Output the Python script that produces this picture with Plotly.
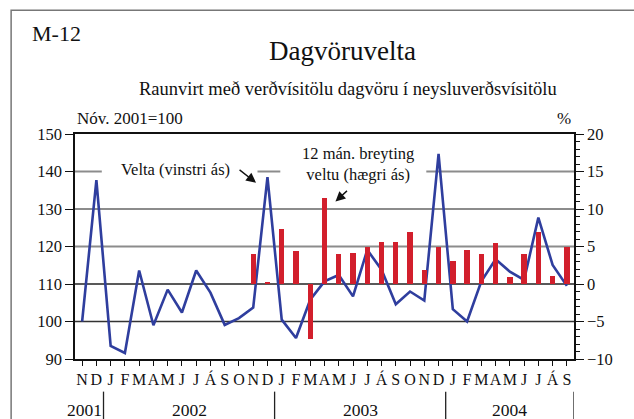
import plotly.graph_objects as go

months = ["N", "D",
          "J", "F", "M", "A", "M", "J", "J", "Á", "S", "O", "N", "D",
          "J", "F", "M", "A", "M", "J", "J", "Á", "S", "O", "N", "D",
          "J", "F", "M", "A", "M", "J", "J", "Á", "S"]
years = ["2001", "2002", "2003", "2004"]
year_centers = [0.15, 7.5, 19.5, 30.0]
year_breaks = [1.5, 13.5, 25.5, 34.5]

# Velta (left axis, Nóv. 2001 = 100)
velta = [100.0, 137.7, 93.5, 91.6, 113.6, 99.0, 108.5, 102.4, 113.6, 107.7, 99.1, 100.9,
         103.7, 138.5, 100.5, 95.6, 105.8, 110.7, 112.4, 106.7, 119.1, 113.8, 104.6, 108.0,
         105.6, 144.7, 103.3, 100.0, 110.7, 116.6, 113.3, 111.1, 127.7, 115.1, 109.5]

# 12 mán. breyting veltu (right axis, %)
breyting = [None] * 12 + [4.0, 0.3, 7.4, 4.4, -7.3, 11.5, 4.0, 4.1, 4.9, 5.6, 5.6, 6.9,
                          1.9, 4.9, 3.1, 4.6, 4.0, 5.5, 0.9, 4.0, 7.0, 1.1, 5.0]

x = list(range(len(months)))
SERIF = "Times New Roman, Liberation Serif, DejaVu Serif, serif"
RED = "#D21F2C"
BLUE = "#2F3E9E"
GRAY = "#8C8C8C"

fig = go.Figure()
fig.add_trace(go.Bar(x=x, y=breyting, yaxis="y2", marker=dict(color=RED, line=dict(width=0)),
                     width=0.38, showlegend=False))
fig.add_trace(go.Scatter(x=x, y=velta, yaxis="y", mode="lines",
                         line=dict(color=BLUE, width=2.6), showlegend=False))

shapes = []
# horizontal reference lines (left axis values)
for v, col, w in [(130, GRAY, 2), (120, GRAY, 2), (110, "#222222", 1.6), (100, "#333333", 1.3)]:
    shapes.append(dict(type="line", xref="x", yref="y", x0=-0.5, x1=34.5, y0=v, y1=v,
                       line=dict(color=col, width=w), layer="below"))
for a, b in [(-0.5, 1.38), (12.3, 13.9), (24.14, 34.5)]:
    shapes.append(dict(type="line", xref="x", yref="y", x0=a, x1=b, y0=140, y1=140,
                       line=dict(color=GRAY, width=2), layer="below"))
# year separators
for xb in year_breaks:
    shapes.append(dict(type="line", xref="x", yref="paper", x0=xb, x1=xb, y0=-0.145, y1=-0.27,
                       line=dict(color="#222222", width=1.3)))
# outer frame (top and left edges)
shapes.append(dict(type="rect", xref="paper", yref="paper", x0=-0.128, x1=1.2, y0=-0.5, y1=1.55,
                   line=dict(color="#777777", width=1.5)))

annotations = [
    dict(text="M-12", xref="paper", yref="paper", x=-0.09, y=1.445, xanchor="left", yanchor="middle",
         showarrow=False, font=dict(family=SERIF, size=22, color="#111")),
    dict(text="Dagvöruvelta", xref="paper", yref="paper", x=0.537, y=1.37, xanchor="center",
         yanchor="middle", showarrow=False, font=dict(family=SERIF, size=27, color="#111")),
    dict(text="Raunvirt með verðvísitölu dagvöru í neysluverðsvísitölu", xref="paper", yref="paper",
         x=0.547, y=1.2, xanchor="center", yanchor="middle", showarrow=False,
         font=dict(family=SERIF, size=18.5, color="#111")),
    dict(text="Nóv. 2001=100", xref="paper", yref="paper", x=0.0, y=1.07, xanchor="left",
         yanchor="middle", showarrow=False, font=dict(family=SERIF, size=17, color="#111")),
    dict(text="%", xref="paper", yref="paper", x=0.997, y=1.07, xanchor="right",
         yanchor="middle", showarrow=False, font=dict(family=SERIF, size=17, color="#111")),
    dict(text="Velta (vinstri ás)", xref="x", yref="y", x=6.56, y=140.6, showarrow=False,
         font=dict(family=SERIF, size=16.5, color="#111")),
    dict(text="12 mán. breyting<br>veltu (hægri ás)", xref="x", yref="y", x=19.37, y=142.0,
         showarrow=False, font=dict(family=SERIF, size=16.5, color="#111")),
    dict(text="", xref="x", yref="y", x=12.2, y=137.0, ax=-18, ay=-14, showarrow=True,
         arrowhead=2, arrowsize=1.4, arrowwidth=1.4, arrowcolor="#111"),
    dict(text="", xref="x", yref="y", x=17.77, y=132.0, ax=13, ay=-12, showarrow=True,
         arrowhead=2, arrowsize=1.4, arrowwidth=1.4, arrowcolor="#111"),
]
for yl, xc in zip(years, year_centers):
    annotations.append(dict(text=yl, xref="x", yref="paper", x=xc, y=-0.225, showarrow=False,
                            xanchor="center", yanchor="middle",
                            font=dict(family=SERIF, size=17.5, color="#111")))

fig.update_layout(
    width=634, height=419,
    margin=dict(l=75, r=60, t=134, b=60),
    paper_bgcolor="white", plot_bgcolor="white",
    font=dict(family=SERIF, color="#111"),
    bargap=0,
    xaxis=dict(range=[-0.5, 34.5], tickmode="array", tickvals=x, ticktext=months,
               tickangle=0,
               ticks="outside", ticklen=5, tickwidth=1.2, tickcolor="#111",
               showline=True, linecolor="#111", linewidth=1.5, mirror=True,
               showgrid=False, zeroline=False,
               tickfont=dict(family=SERIF, size=16, color="#111")),
    yaxis=dict(range=[90, 150], tickmode="linear", tick0=90, dtick=10,
               ticks="outside", ticklen=8, tickwidth=1.2, tickcolor="#111",
               showline=True, linecolor="#111", linewidth=1.5,
               showgrid=False, zeroline=False,
               tickfont=dict(family=SERIF, size=16.5, color="#111")),
    yaxis2=dict(range=[-10, 20], tickmode="linear", tick0=-10, dtick=5, overlaying="y",
                side="right", ticks="outside", ticklen=8, tickwidth=1.2, tickcolor="#111",
                minor=dict(ticks="outside", dtick=1, ticklen=4, tickcolor="#111", tickwidth=1),
                showline=True, linecolor="#111", linewidth=1.5,
                showgrid=False, zeroline=False,
                tickfont=dict(family=SERIF, size=16.5, color="#111")),
    shapes=shapes,
    annotations=annotations,
)

fig.write_html("out.html", config={"displayModeBar": False},
               post_script="document.body.style.margin='0';")
